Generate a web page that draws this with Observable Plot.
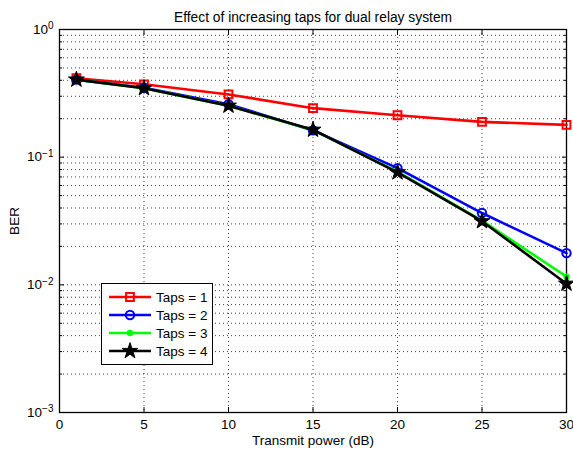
<!DOCTYPE html>
<html>
<head>
<meta charset="utf-8">
<script src="https://cdn.jsdelivr.net/npm/d3@7"></script>
<script src="https://cdn.jsdelivr.net/npm/@observablehq/plot@0.6"></script>
<style>
  html, body { margin: 0; padding: 0; background: #fff; }
  #wrap { position: relative; width: 573px; height: 450px; font-family: "Liberation Sans", Arial, sans-serif; }
  #legend { position: absolute; left: 101px; top: 283px; width: 112px; height: 82px; border: 1px solid #000; background: #fff; box-sizing: border-box; }
  #legend .row { position: absolute; left: 0; height: 18px; display: flex; align-items: center; }
  #legend .row span { font-size: 13.5px; margin-left: 2px; color: #000; }
</style>
</head>
<body>
<div id="wrap"></div>
<script>
const title = "Effect of increasing taps for dual relay system";
const xLabel = "Transmit power (dB)";
const yLabel = "BER";
const power = [1, 5, 10, 15, 20, 25, 30];
const seriesNames = ["Taps = 1", "Taps = 2", "Taps = 3", "Taps = 4"];
const seriesColors = ["#ff0000", "#0000ff", "#00ff00", "#000000"];
const seriesSymbols = ["square", "circle", "dot", "star"];
const taps1 = [0.415, 0.372, 0.310, 0.242, 0.213, 0.189, 0.179];
const taps2 = [0.405, 0.350, 0.260, 0.162, 0.082, 0.0365, 0.0177];
const taps3 = [0.405, 0.347, 0.253, 0.163, 0.077, 0.0318, 0.0116];
const taps4 = [0.405, 0.347, 0.253, 0.164, 0.076, 0.0315, 0.0102];
const xTicks = [0, 5, 10, 15, 20, 25, 30];
const yMajor = [1e-3, 1e-2, 1e-1, 1];
const yMinor = [];
for (const d of [1e-3, 1e-2, 1e-1]) for (let m = 2; m <= 9; m++) yMinor.push(+(m * d).toPrecision(3));

const allSeries = [taps1, taps2, taps3, taps4];
const rows = [];
allSeries.forEach((vals, i) => vals.forEach((v, j) => rows.push({series: seriesNames[i], x: power[j], y: v})));

const marks = [
  Plot.gridY(yMajor.concat(yMinor), {stroke: "#000", strokeOpacity: 0.75, strokeDasharray: "1,3", strokeWidth: 1}),
  Plot.gridX(xTicks.slice(1, -1), {stroke: "#000", strokeOpacity: 0.75, strokeDasharray: "1,3", strokeWidth: 1}),
  Plot.axisX({anchor: "bottom", ticks: xTicks, tickSize: -5, tickFormat: () => "", label: null}),
  Plot.axisX({anchor: "top", ticks: xTicks, tickSize: -5, tickFormat: () => "", label: null}),
  Plot.axisY({anchor: "left", ticks: yMajor, tickSize: -5, tickFormat: () => "", label: null}),
  Plot.axisY({anchor: "right", ticks: yMajor, tickSize: -5, tickFormat: () => "", label: null}),
  Plot.axisY({anchor: "left", ticks: yMinor, tickSize: -3, tickFormat: () => "", label: null}),
  Plot.axisY({anchor: "right", ticks: yMinor, tickSize: -3, tickFormat: () => "", label: null}),
  Plot.axisX({anchor: "bottom", ticks: xTicks, tickSize: 0, tickPadding: 7, fontSize: 13.5, label: xLabel, labelAnchor: "center", labelArrow: "none", labelOffset: 32}),
  Plot.axisY({anchor: "left", ticks: yMajor, tickSize: 0, tickPadding: 6, fontSize: 13.5, tickFormat: d => "10^" + Math.round(Math.log10(d)), label: yLabel, labelAnchor: "center", labelArrow: "none", labelOffset: 50}),
  Plot.frame({stroke: "#000", strokeWidth: 1.3}),
  Plot.text([title], {frameAnchor: "top", dy: -17, fontSize: 13.8, fill: "#000"})
];
seriesNames.forEach((name, i) => {
  const data = rows.filter(r => r.series === name);
  const sym = seriesSymbols[i];
  marks.push(Plot.line(data, {x: "x", y: "y", stroke: seriesColors[i], strokeWidth: 2.6}));
  if (sym === "dot") {
    marks.push(Plot.dot(data, {x: "x", y: "y", r: 3.2, fill: seriesColors[i], stroke: "none"}));
  } else if (sym === "star") {
    marks.push(Plot.dot(data, {x: "x", y: "y", symbol: "star", r: 5, fill: seriesColors[i], stroke: seriesColors[i], strokeWidth: 1}));
  } else if (sym === "square") {
    marks.push(Plot.dot(data, {x: "x", y: "y", symbol: "square", r: 4.4, fill: "none", stroke: seriesColors[i], strokeWidth: 2}));
  } else {
    marks.push(Plot.dot(data, {x: "x", y: "y", symbol: "circle", r: 4.2, fill: "none", stroke: seriesColors[i], strokeWidth: 2}));
  }
});

const chart = Plot.plot({
  width: 573, height: 450,
  marginLeft: 59, marginRight: 7, marginTop: 29, marginBottom: 38,
  style: {fontFamily: "Liberation Sans, Arial, sans-serif", fontSize: "13.5px", color: "#000", background: "#fff"},
  x: {domain: [0, 30]},
  y: {type: "log", domain: [1e-3, 1]},
  marks
});

// superscript exponents on log tick labels
d3.select(chart).selectAll("text").each(function() {
  const t = this.textContent;
  const m = /^10\^(-?\d+)$/.exec(t);
  if (m) {
    const el = d3.select(this);
    el.text(null);
    el.append("tspan").text("10");
    el.append("tspan").attr("dy", "-0.45em").attr("font-size", "10px").text(m[1].replace("-", "\u2212"));
  }
});

const wrap = document.getElementById("wrap");
wrap.appendChild(chart);

// legend
const legend = document.createElement("div");
legend.id = "legend";
seriesNames.forEach((name, i) => {
  const row = document.createElement("div");
  row.className = "row";
  row.style.top = (4 + i * 18) + "px";
  const ns = "http://www.w3.org/2000/svg";
  const s = document.createElementNS(ns, "svg");
  s.setAttribute("width", "52"); s.setAttribute("height", "18");
  const ln = document.createElementNS(ns, "line");
  ln.setAttribute("x1", "7"); ln.setAttribute("x2", "49"); ln.setAttribute("y1", "9"); ln.setAttribute("y2", "9");
  ln.setAttribute("stroke", seriesColors[i]); ln.setAttribute("stroke-width", "2.6");
  s.appendChild(ln);
  const g = document.createElementNS(ns, "path");
  const sym = seriesSymbols[i];
  let path, fill = "none", sw = 2;
  if (sym === "square") path = d3.symbol(d3.symbolSquare, Math.PI * 4.4 * 4.4)();
  else if (sym === "circle") path = d3.symbol(d3.symbolCircle, Math.PI * 4.2 * 4.2)();
  else if (sym === "dot") { path = d3.symbol(d3.symbolCircle, Math.PI * 3.2 * 3.2)(); fill = seriesColors[i]; sw = 0; }
  else { path = d3.symbol(d3.symbolStar, Math.PI * 5 * 5)(); fill = seriesColors[i]; sw = 1; }
  g.setAttribute("d", path);
  g.setAttribute("transform", "translate(28,9)");
  g.setAttribute("fill", fill);
  g.setAttribute("stroke", seriesColors[i]);
  g.setAttribute("stroke-width", sw);
  s.appendChild(g);
  row.appendChild(s);
  const sp = document.createElement("span");
  sp.textContent = name;
  row.appendChild(sp);
  legend.appendChild(row);
});
wrap.appendChild(legend);
</script>
</body>
</html>
